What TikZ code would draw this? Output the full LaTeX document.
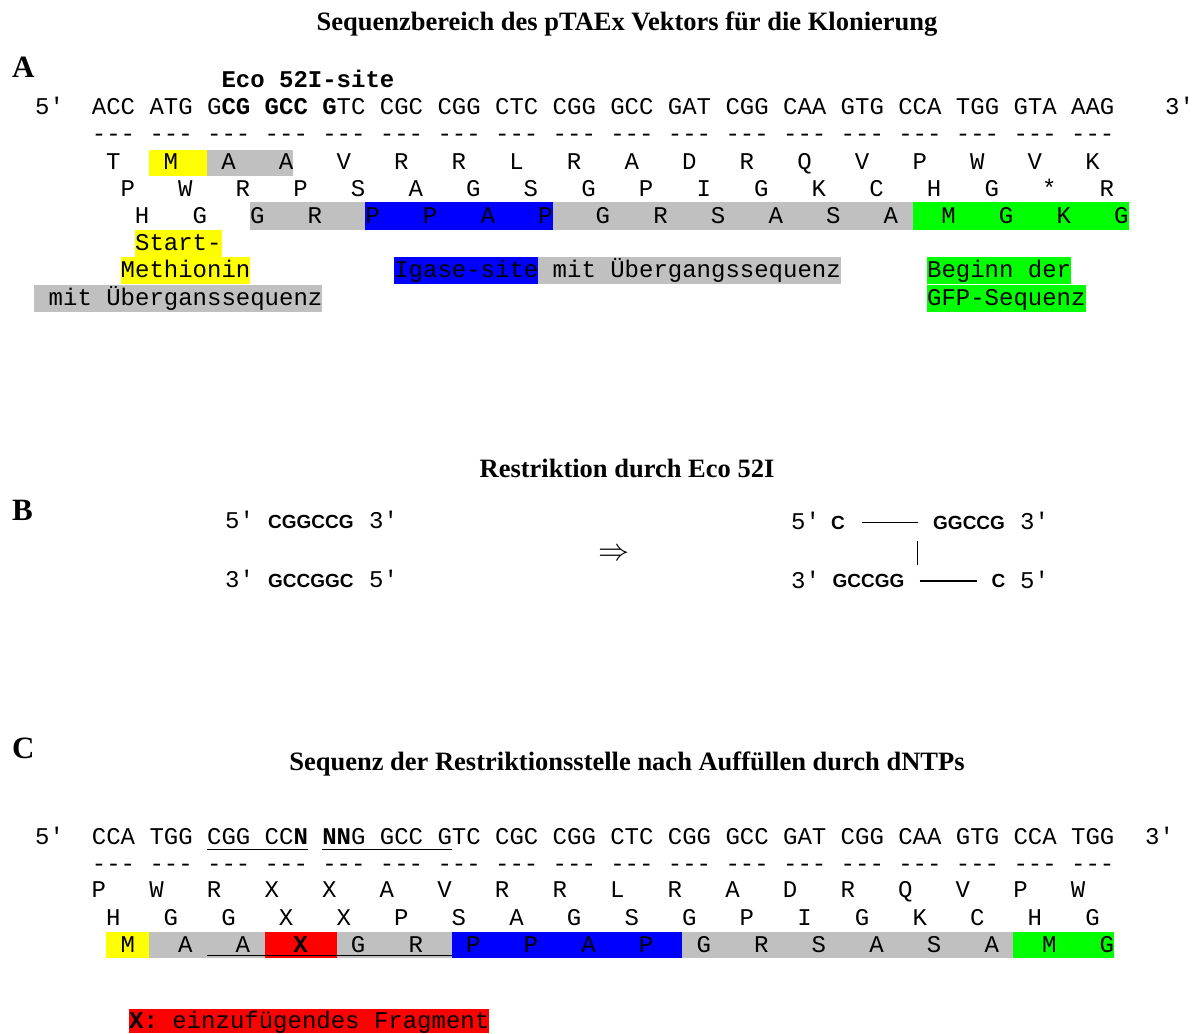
\documentclass[tikz,border=0pt]{standalone}
\usepackage{fontspec}
\setmainfont{Liberation Serif}
\setsansfont{Liberation Sans}
\setmonofont{Liberation Mono}
\definecolor{hy}{HTML}{FFFF00}
\definecolor{hg}{HTML}{C0C0C0}
\definecolor{hb}{HTML}{0000FF}
\definecolor{hgr}{HTML}{00FF00}
\definecolor{hr}{HTML}{FF0000}
\begin{document}
\begin{tikzpicture}[x=1pt,y=-1pt,
  declare function={cx(\c)=91.7+14.4*\c;},
  mono/.style={font=\ttfamily\fontsize{24}{28}\selectfont, inner sep=0pt, text height=14pt, text depth=0pt},
  bsans/.style={font=\sffamily\bfseries\fontsize{19}{22}\selectfont, inner sep=0pt, text height=13.6pt, text depth=0pt},
  ttl/.style={font=\bfseries\fontsize{26.5}{30}\selectfont, inner sep=0pt, anchor=base},
  lbl/.style={font=\bfseries\fontsize{31}{34}\selectfont, inner sep=0pt, anchor=base west},
  lab/.style={mono, anchor=west, inner ysep=6.6pt},
  bline/.style={line width=1.2pt},
  uline/.style={line width=1.6pt}]
\useasboundingbox (0,0) rectangle (1196,1033);

% ---------------- Section A ----------------
\node[ttl] (t1) at (627,30.8) {Sequenzbereich des pTAEx Vektors für die Klonierung};
\node[lbl] (la) at (12,77.5) {A};
\node[mono, anchor=west] (eco) at ({cx(9)},80) {\bfseries Eco 52I-site};

\node[mono, anchor=west] (a5) at (35,107) {5'};
\node[mono, anchor=west] (aseq) at ({cx(0)},107)
  {ACC ATG G\textbf{CG GCC G}TC CGC CGG CTC CGG GCC GAT CGG CAA GTG CCA TGG GTA AAG};
\node[mono, anchor=west] (a3) at (1165,107) {3'};
\node[mono, anchor=west] (adash) at ({cx(0)},134.5)
  {--- --- --- --- --- --- --- --- --- --- --- --- --- --- --- --- --- ---};

% highlights row 1 and row 3
\fill[hy] ({cx(4)},150) rectangle ({cx(8)},176);
\fill[hg] ({cx(8)},150) rectangle ({cx(14)},176);
\fill[hg] ({cx(11)},202) rectangle ({cx(19)},230);
\fill[hb] ({cx(19)},202) rectangle ({cx(32)},230);
\fill[hg] ({cx(32)},202) rectangle ({cx(57)},230);
\fill[hgr] ({cx(57)},202) rectangle ({cx(72)},230);

\foreach \L [count=\i from 0] in {T,M,A,A,V,R,R,L,R,A,D,R,Q,V,P,W,V,K}
  \node[mono] (aa1-\i) at ({cx(4*\i+1.5)},162.5) {\L};
\foreach \L [count=\i from 0] in {P,W,R,P,S,A,G,S,G,P,I,G,K,C,H,G,*,R}
  \node[mono] (aa2-\i) at ({cx(4*\i+2.5)},189.5) {\L};
\foreach \L [count=\i from 0] in {H,G,G,R,P,P,A,P,G,R,S,A,S,A,M,G,K,G}
  \node[mono] (aa3-\i) at ({cx(4*\i+3.5)},216) {\L};

% labels
\node[lab, fill=hy] (start) at ({cx(3)},243.3) {Start-};
\node[lab, fill=hy] (meth) at ({cx(2)},270.8) {Methionin};
\node[lab, fill=hg] (mit1) at ({cx(-4)},298.3) {~mit Überganssequenz};
\node[lab, fill=hb] (igase) at ({cx(21)},270.8) {Igase-site};
\node[lab, fill=hg] (mit2) at ({cx(31)},270.8) {~mit Übergangssequenz};
\node[lab, fill=hgr] (beg) at ({cx(58)},270.8) {Beginn der};
\node[lab, fill=hgr] (gfp) at ({cx(58)},298.3) {GFP-Sequenz};

% ---------------- Section B ----------------
\node[ttl] (t2) at (627,477.8) {Restriktion durch Eco 52I};
\node[lbl] (lb) at (12,520.5) {B};

\node[mono, anchor=west] (l5a) at (225,521.7) {5'};
\node[bsans, anchor=west] (ls1) at (268,521.7) {CGGCCG};
\node[mono, anchor=west] (l3a) at (369,521.7) {3'};
\node[mono, anchor=west] (l3b) at (225,580.5) {3'};
\node[bsans, anchor=west] (ls2) at (268,580.5) {GCCGGC};
\node[mono, anchor=west] (l5b) at (369,580.5) {5'};

\node[inner sep=0pt, scale=1.25] (arr) at (614,555) {\fontsize{24}{28}\selectfont$\Rightarrow$};

\node[mono, anchor=west] (r5a) at (791,522.5) {5'};
\node[bsans, anchor=west] (rc1) at (831,522.5) {C};
\node[bsans, anchor=west] (rg1) at (933,522.5) {GGCCG};
\node[mono, anchor=west] (r3a) at (1020,522.5) {3'};
\node[mono, anchor=west] (r3b) at (791,581) {3'};
\node[bsans, anchor=west] (rg2) at (832.5,581) {GCCGG};
\node[bsans, anchor=west] (rc2) at (991.5,581) {C};
\node[mono, anchor=west] (r5b) at (1020,581) {5'};
\draw[bline, shorten <=17pt, shorten >=14.7pt] (rc1.east) -- (rg1.west);
\draw[bline, shorten <=15pt, shorten >=14.8pt] (rg2.east) -- (rc2.west);
\coordinate (vt) at (917.5,541);
\coordinate (vb) at (917.5,565);
\draw[line width=1pt] (vt) -- (vb);

% ---------------- Section C ----------------
\node[lbl] (lc) at (12,758.5) {C};
\node[ttl] (t3) at (627,770.8) {Sequenz der Restriktionsstelle nach Auffüllen durch dNTPs};

\node[mono, anchor=west] (c5) at (35,837) {5'};
\node[mono, anchor=west] (cseq) at ({cx(0)},837)
  {CCA TGG CGG CC\textbf{N} \textbf{NN}G GCC GTC CGC CGG CTC CGG GCC GAT CGG CAA GTG CCA TGG};
\node[mono, anchor=west] (c3) at (1145,837) {3'};
\draw[uline] ({cx(8)},849.5) -- ({cx(15)},849.5);
\draw[uline] ({cx(16)},849.5) -- ({cx(25)},849.5);
\node[mono, anchor=west] (cdash) at ({cx(0)},864.5)
  {--- --- --- --- --- --- --- --- --- --- --- --- --- --- --- --- --- ---};

\fill[hy] ({cx(1)},931.7) rectangle ({cx(4)},957.7);
\fill[hg] ({cx(4)},931.7) rectangle ({cx(12)},957.7);
\fill[hr] ({cx(12)},931.7) rectangle ({cx(17)},957.7);
\fill[hg] ({cx(17)},931.7) rectangle ({cx(25)},957.7);
\fill[hb] ({cx(25)},931.7) rectangle ({cx(41)},957.7);
\fill[hg] ({cx(41)},931.7) rectangle ({cx(64)},957.7);
\fill[hgr] ({cx(64)},931.7) rectangle ({cx(71)},957.7);

\foreach \L [count=\i from 0] in {P,W,R,X,X,A,V,R,R,L,R,A,D,R,Q,V,P,W}
  \node[mono] (ca1-\i) at ({cx(4*\i+0.5)},890.5) {\L};
\foreach \L [count=\i from 0] in {H,G,G,X,X,P,S,A,G,S,G,P,I,G,K,C,H,G}
  \node[mono] (ca2-\i) at ({cx(4*\i+1.5)},918) {\L};
\foreach \L [count=\i from 0] in {M,A,A,{\bfseries X},G,R,P,P,A,P,G,R,S,A,S,A,M,G}
  \node[mono] (ca3-\i) at ({cx(4*\i+2.5)},945) {\L};
\draw[uline] ({cx(8)},955.5) -- ({cx(25)},955.5);

\node[mono, anchor=west, fill=hr, inner ysep=5pt] (leg) at (129,1021)
  {\textbf{X:} einzufügendes Fragment};
\end{tikzpicture}
\end{document}
